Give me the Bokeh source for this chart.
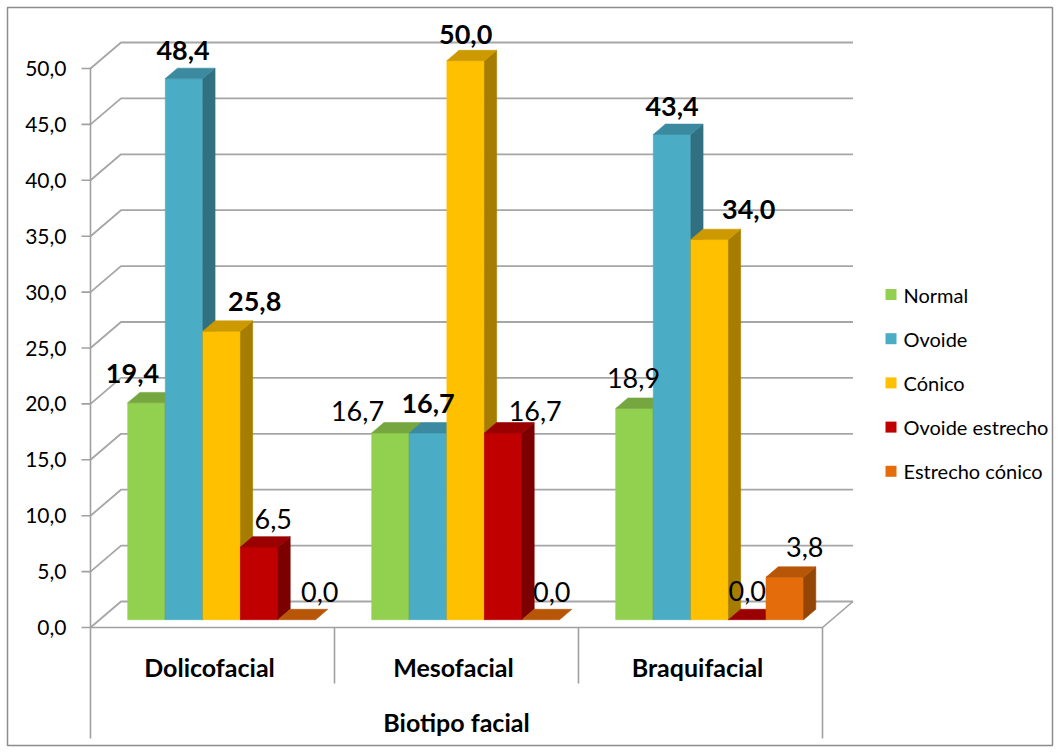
from bokeh.plotting import figure
from bokeh.models import Range1d
from bokeh.core.properties import value
from bokeh.embed import file_html
from bokeh.resources import INLINE

# ---------------- data ----------------
categories = ["Dolicofacial", "Mesofacial", "Braquifacial"]
series_names = ["Normal", "Ovoide", "Cónico", "Ovoide estrecho", "Estrecho cónico"]
normal = [19.4, 16.7, 18.9]
ovoide = [48.4, 16.7, 43.4]
conico = [25.8, 50.0, 34.0]
ovoide_estrecho = [6.5, 16.7, 0.0]
estrecho_conico = [0.0, 0.0, 3.8]
y_ticks = [0, 5, 10, 15, 20, 25, 30, 35, 40, 45, 50]
axis_title = "Biotipo facial"

series = [normal, ovoide, conico, ovoide_estrecho, estrecho_conico]

# ---------------- styles ----------------
front_colors = ["#92D050", "#4BACC6", "#FFC000", "#C00000", "#E46C0A"]
top_colors = ["#76A640", "#3B8A9F", "#CC9A00", "#9A0000", "#B85608"]
side_colors = ["#5F8734", "#317081", "#A67D00", "#7D0000", "#944607"]
# which data labels are bold (per category, per series)
label_bold = [[True, True, True, False, False],
              [False, True, True, False, False],
              [False, True, True, False, False]]
# label nudges in px (x), and gap above bar top in px
label_dx = [[-14, -1, 33, 14, 23],
            [-33, 0, 0, 32, 11],
            [-1, 0, 39, 0, 20]]
label_above = [[20, 19, 21, 19, 19],
               [13, 20, 17, 13, 19],
               [21, 19, 21, 20, 21]]
BASELINE_FIX = 9  # px, renderer baseline correction

FONT = "Lato"
W, H = 1060, 752
X0, Y0 = 90.0, 627.0      # front-left origin of the plot box (px)
CW = 244.0                # px per category
S = 559.0 / 50.0          # px per value unit
DX_PX, DY_PX = 30.5, 26.0 # full depth of the box (px)
BAR_F, BAR_D = 0.30, 0.40 # bar front plane / bar depth as fraction of box depth
GAP, BW = 0.115, 0.154    # category fractions


def px2u(x):
    return (x - X0) / CW


def px2v(y):
    return (Y0 - y) / S


ddx = DX_PX / CW
ddy = DY_PX / S

p = figure(width=W, height=H,
           x_range=Range1d(px2u(0), px2u(W)), y_range=Range1d(px2v(H), px2v(0)),
           output_backend="svg", toolbar_location=None, min_border=0)
p.min_border_left = p.min_border_right = p.min_border_top = p.min_border_bottom = 0
p.axis.visible = False
p.grid.visible = False
p.outline_line_color = None
p.background_fill_color = "white"
p.border_fill_color = "white"

# outer chart border
p.quad(left=[px2u(7)], right=[px2u(1052)], top=[px2v(7)], bottom=[px2v(745)],
       fill_color=None, line_color="#8C8C8C", line_width=1.5)

# gridlines (back wall + left side wall)
gxs, gys = [], []
for t in y_ticks:
    gxs.append([0, ddx, 3 + ddx])
    gys.append([t, t + ddy, t + ddy])
p.multi_line(gxs, gys, line_color="#A6A6A6", line_width=1.8)

# floor edges, axis line and category dividers
axis_xs = [[0, 3, 3 + ddx],
           [0, 0],
           [3, 3],
           [1, 1],
           [2, 2]]
axis_ys = [[0, 0, ddy],
           [y_ticks[-1] + 0.1, px2v(738)],
           [0, px2v(738)],
           [0, px2v(683)],
           [0, px2v(683)]]
p.multi_line(axis_xs, axis_ys, line_color="#A0A0A0", line_width=1.6)

# tick marks
p.segment(x0=[px2u(81)] * len(y_ticks), y0=y_ticks, x1=[0] * len(y_ticks), y1=y_ticks,
          line_color="#A0A0A0", line_width=1.6)

# tick labels
p.text(x=[px2u(66)] * len(y_ticks), y=y_ticks,
       text=[f"{t:.1f}".replace(".", ",") for t in y_ticks],
       text_align="right", text_baseline="middle",
       text_font=value(FONT), text_font_size="21px", text_color="#000000")

# bars (pseudo 3D)
bx, by = BAR_D * ddx, BAR_D * ddy
fxs, fys, fcols = [], [], []
lab = {True: {"x": [], "y": [], "t": []}, False: {"x": [], "y": [], "t": []}}
for i in range(len(categories)):
    for j in range(len(series)):
        v = series[j][i]
        xl = i + GAP + j * BW + BAR_F * ddx
        xr = xl + BW
        yb = BAR_F * ddy
        yt = yb + v
        if v > 0:
            fxs.append([xl, xr, xr, xl]); fys.append([yb, yb, yt, yt]); fcols.append(front_colors[j])
            fxs.append([xr, xr + bx, xr + bx, xr]); fys.append([yb, yb + by, yt + by, yt]); fcols.append(side_colors[j])
        fxs.append([xl, xr, xr + bx, xl + bx]); fys.append([yt, yt, yt + by, yt + by]); fcols.append(top_colors[j])
        b = label_bold[i][j]
        lab[b]["x"].append((xl + xr) / 2 + label_dx[i][j] / CW)
        lab[b]["y"].append(yt + (label_above[i][j] + BASELINE_FIX) / S)
        lab[b]["t"].append(f"{v:.1f}".replace(".", ","))

p.patches(fxs, fys, fill_color=fcols, line_color=fcols, line_width=0.6)

for b in (False, True):
    p.text(x=lab[b]["x"], y=lab[b]["y"], text=lab[b]["t"],
           text_align="center", text_baseline="alphabetic",
           text_font=value(FONT), text_font_size="27px",
           text_font_style="bold" if b else "normal", text_color="#000000")

# category labels and axis title
p.text(x=[i + 0.5 - 3 / CW for i in range(len(categories))], y=[px2v(666)] * len(categories),
       text=categories, text_align="center", text_baseline="middle",
       text_font=value(FONT), text_font_size="25px", text_font_style="bold", text_color="#000000")
p.text(x=[1.5], y=[px2v(721)], text=[axis_title], text_align="center", text_baseline="middle",
       text_font=value(FONT), text_font_size="25px", text_font_style="bold", text_color="#000000")

# legend
row_y = [px2v(294 + k * 44.2) for k in range(len(series_names))]
half = 5.5
p.quad(left=[px2u(885)] * len(series_names), right=[px2u(896)] * len(series_names),
       top=[y + half / S for y in row_y], bottom=[y - half / S for y in row_y],
       fill_color=front_colors, line_color=None)
p.text(x=[px2u(903)] * len(series_names), y=row_y, text=series_names,
       text_align="left", text_baseline="middle",
       text_font=value(FONT), text_font_size="20px", text_color="#000000")

open("out.html", "w").write(file_html(p, INLINE))
